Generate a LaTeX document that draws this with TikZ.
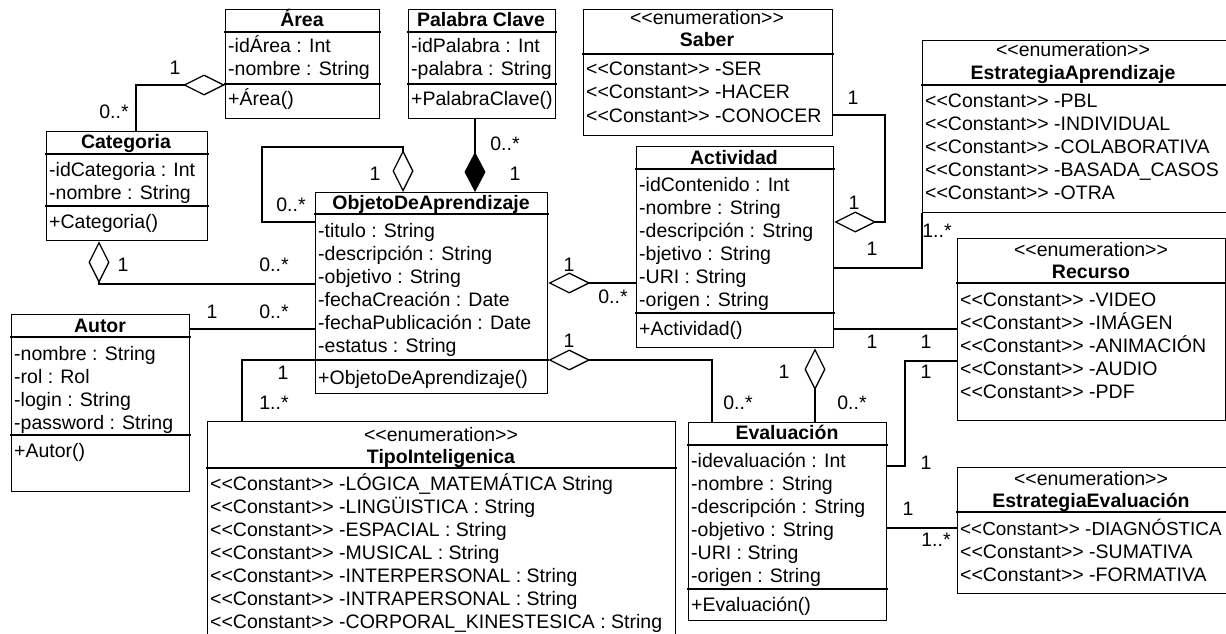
\documentclass[tikz,border=0pt]{standalone}
\usepackage{fontspec}
\newfontfamily\umlfont{Liberation Sans}
\usetikzlibrary{arrows.meta}
\tikzset{
  ln/.style={line width=1.3pt, line cap=rect},
  box/.style={draw, ln, rectangle, inner sep=0pt, fill=white},
  txt/.style={anchor=base west, inner sep=0pt, font=\umlfont\fontsize{19.5}{23}\selectfont},
  ttl/.style={anchor=base, inner sep=0pt, font=\umlfont\bfseries\fontsize{19.5}{23}\selectfont},
  ster/.style={anchor=base, inner sep=0pt, font=\umlfont\fontsize{19.5}{23}\selectfont},
  mult/.style={inner sep=0pt, font=\umlfont\fontsize{19.5}{23}\selectfont},
  conn/.style={ln},
  agg/.style={ln, -{Diamond[open, length=42pt, width=21pt]}},
  comp/.style={ln, -{Diamond[length=40pt, width=21pt]}}
}
\newcommand\umlbox[5]{\node[box, minimum width={(#4-#2)*1pt}, minimum height={(#5-#3)*1pt}, anchor=north west] (#1) at (#2,#3) {};}
\newcommand\sepline[2]{\draw[ln] (#1.west |- 0,#2) -- (#1.east |- 0,#2);}
\newcommand\rowsL[3]{\foreach \rowtext [count=\i from 0] in {#3} {\node[txt] at (#1, #2+7+23*\i) {\rowtext};}}
\newcommand\cst{<{}<Constant>{}> }
\begin{document}
\begin{tikzpicture}[x=1pt, y=-1pt]
\useasboundingbox (0,0) rectangle (1226,634);
\fill[white] (0,0) rectangle (1226,634);
\clip (0,0) rectangle (1226,634);

% ---- Area
\umlbox{area}{225}{9}{379}{118}
\sepline{area}{32}\sepline{area}{84}
\node[ttl] at (302,27) {Área};
\rowsL{228}{46}{-idÁrea : Int,-nombre : String}
\rowsL{228}{98}{+Área()}

% ---- Palabra Clave
\umlbox{pal}{408}{9}{555}{118}
\sepline{pal}{32}\sepline{pal}{84}
\node[ttl] at (481,27) {Palabra Clave};
\rowsL{411}{46}{-idPalabra : Int,-palabra : String}
\rowsL{411}{98}{+PalabraClave()}

% ---- Saber
\umlbox{saber}{583}{9}{832}{135}
\sepline{saber}{54}
\node[ster] at (707,25) {<{}<enumeration>{}>};
\node[ttl] at (707,47) {Saber};
\rowsL{586}{69}{\cst-SER,\cst-HACER,\cst-CONOCER}

% ---- EstrategiaAprendizaje
\umlbox{estA}{922}{40}{1240}{212}
\sepline{estA}{85}
\node[ster] at (1073,57) {<{}<enumeration>{}>};
\node[ttl] at (1073,79) {EstrategiaAprendizaje};
\rowsL{925}{100}{\cst-PBL,\cst-INDIVIDUAL,\cst-COLABORATIVA,\cst-BASADA\_CASOS,\cst-OTRA}

% ---- Categoria
\umlbox{cat}{46}{131}{207}{240}
\sepline{cat}{154}\sepline{cat}{206}
\node[ttl] at (126,148) {Categoria};
\rowsL{49}{169}{-idCategoria : Int,-nombre : String}
\rowsL{49}{221}{+Categoria()}

% ---- ObjetoDeAprendizaje
\umlbox{obj}{315}{192}{547}{393}
\sepline{obj}{214}\sepline{obj}{360}
\node[ttl] at (431,209) {ObjetoDeAprendizaje};
\rowsL{318}{230}{-titulo : String,-descripción : String,-objetivo : String,-fechaCreación : Date,-fechaPublicación : Date,-estatus : String}
\rowsL{318}{377}{+ObjetoDeAprendizaje()}

% ---- Actividad
\umlbox{act}{636}{146}{833}{347}
\sepline{act}{169}\sepline{act}{313}
\node[ttl] at (734,164) {Actividad};
\rowsL{639}{184}{-idContenido : Int,-nombre : String,-descripción : String,-bjetivo : String,-URI : String,-origen : String}
\rowsL{639}{328}{+Actividad()}

% ---- Autor
\umlbox{autor}{11}{314}{189}{491}
\sepline{autor}{337}\sepline{autor}{435}
\node[ttl] at (100,332) {Autor};
\rowsL{14}{353}{-nombre : String,-rol : Rol,-login : String,-password : String}
\rowsL{14}{450}{+Autor()}

% ---- TipoInteligenica
\umlbox{tipo}{207}{421}{675}{660}
\sepline{tipo}{468}
\node[ster] at (441,441) {<{}<enumeration>{}>};
\node[ttl] at (441,463) {TipoInteligenica};
\rowsL{210}{483}{\cst-LÓGICA\_MATEMÁTICA String,\cst-LINGÜISTICA : String,\cst-ESPACIAL : String,\cst-MUSICAL : String,\cst-INTERPERSONAL : String,\cst-INTRAPERSONAL : String,\cst-CORPORAL\_KINESTESICA : String}

% ---- Evaluacion
\umlbox{eval}{688}{422}{886}{620}
\sepline{eval}{445}\sepline{eval}{589}
\node[ttl] at (787,439) {Evaluación};
\rowsL{691}{460}{-idevaluación : Int,-nombre : String,-descripción : String,-objetivo : String,-URI : String,-origen : String}
\rowsL{691}{604}{+Evaluación()}

% ---- Recurso
\umlbox{rec}{957}{238}{1225}{420}
\sepline{rec}{283}
\node[ster] at (1091,256) {<{}<enumeration>{}>};
\node[ttl] at (1091,278) {Recurso};
\rowsL{960}{299}{\cst-VIDEO,\cst-IMÁGEN,\cst-ANIMACIÓN,\cst-AUDIO,\cst-PDF}

% ---- EstrategiaEvaluacion
\umlbox{estE}{957}{467}{1240}{593}
\sepline{estE}{512}
\node[ster] at (1091,485) {<{}<enumeration>{}>};
\node[ttl] at (1091,507) {EstrategiaEvaluación};
\node[txt, font=\umlfont\fontsize{18.9}{23}\selectfont] at (960,535) {\cst-DIAGNÓSTICA};
\rowsL{960}{551}{\cst-SUMATIVA,\cst-FORMATIVA}

% ---- helper coordinates for bends
\coordinate (selfbend) at (262,147);
\coordinate (saberbend) at (885,222);
\coordinate (recbend) at (905,361);

% ---- connectors
\draw[agg] (cat.north -| 136,0) |- (area.west |- 0,85);
\draw[agg] (obj.west |- 0,222) -| (selfbend) -| (obj.north -| 403,0);
\draw[comp] (pal.south -| 475,0) -- (obj.north -| 475,0);
\draw[agg] (obj.west |- 0,284) -| (cat.south -| 99,0);
\draw[conn] (autor.east |- 0,329) -- (obj.west |- 0,329);
\draw[conn] (obj.west |- 0,360) -| (tipo.north -| 242,0);
\draw[agg] (act.west |- 0,283) -- (obj.east |- 0,283);
\draw[agg] (eval.north -| 712,0) |- (obj.east |- 0,360);
\draw[agg] (eval.north -| 815,0) -- (act.south -| 815,0);
\draw[agg] (saber.east |- 0,115) -| (saberbend) -- (act.east |- 0,222);
\draw[conn] (act.east |- 0,268) -| (estA.south west);
\draw[conn] (act.east |- 0,329) -- (rec.west |- 0,329);
\draw[conn] (rec.west |- 0,361) -- (recbend) |- (eval.east |- 0,466);
\draw[conn] (eval.east |- 0,528) -- (estE.west |- 0,528);

% ---- multiplicities
\node[mult] at (175,68) {1};
\node[mult] at (114,112) {0..*};
\node[mult] at (375,174) {1};
\node[mult] at (291,205) {0..*};
\node[mult] at (505,144) {0..*};
\node[mult] at (515,174) {1};
\node[mult] at (123,265) {1};
\node[mult] at (274,265) {0..*};
\node[mult] at (212,312) {1};
\node[mult] at (274,312) {0..*};
\node[mult] at (283,373) {1};
\node[mult] at (274,403) {1..*};
\node[mult] at (569,265) {1};
\node[mult] at (613,297) {0..*};
\node[mult] at (569,341) {1};
\node[mult] at (738,403) {0..*};
\node[mult] at (784,372) {1};
\node[mult] at (852,403) {0..*};
\node[mult] at (853,98) {1};
\node[mult] at (854,203) {1};
\node[mult] at (872,249) {1};
\node[mult] at (937,231) {1..*};
\node[mult] at (872,342) {1};
\node[mult] at (926,342) {1};
\node[mult] at (926,372) {1};
\node[mult] at (926,463) {1};
\node[mult] at (908,509) {1};
\node[mult] at (936,540) {1..*};
\end{tikzpicture}
\end{document}
